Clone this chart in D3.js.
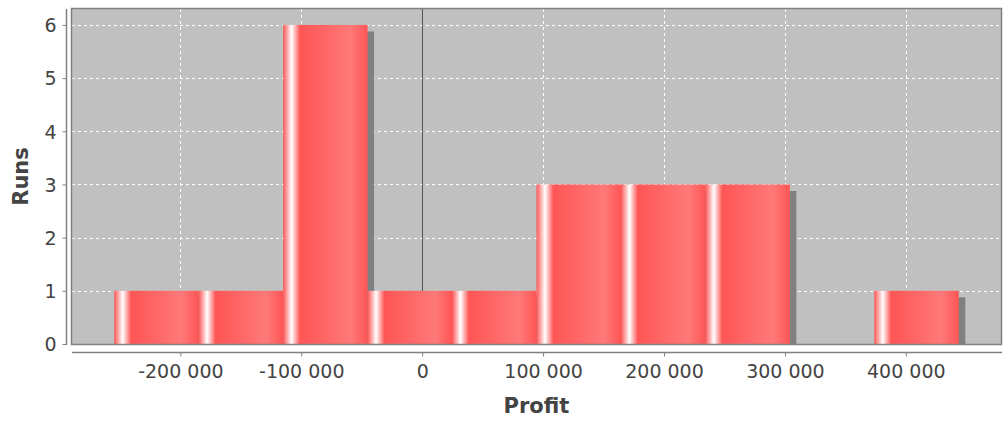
<!DOCTYPE html>
<html>
<head>
<meta charset="utf-8">
<script src="https://cdn.jsdelivr.net/npm/d3@7"></script>
<style>
  html, body { margin: 0; padding: 0; background: #ffffff; }
  svg { display: block; }
  text { font-family: "DejaVu Sans", sans-serif; }
</style>
</head>
<body>
<svg id="chart" width="1003" height="421"></svg>
<script>
// ---- data ----
const binEdges = [-254700, -184850, -115000, -45150, 24700, 94550, 164400, 234250, 304100, 373950, 443800];
const runs = [1, 1, 6, 1, 1, 3, 3, 3, 0, 1];
const xTicks = [-200000, -100000, 0, 100000, 200000, 300000, 400000];
const yTicks = [0, 1, 2, 3, 4, 5, 6];
const xTitle = "Profit";
const yTitle = "Runs";

const bins = runs.map((r, i) => ({ x0: binEdges[i], x1: binEdges[i + 1], n: r }));

// ---- layout ----
const W = 1003, H = 421;
const plot = { left: 72, right: 1001, top: 9, bottom: 344 };

const span = binEdges[binEdges.length - 1] - binEdges[0];
const x = d3.scaleLinear()
  .domain([binEdges[0] - span * 0.05, binEdges[binEdges.length - 1] + span * 0.05])
  .range([plot.left, plot.right]);
const y = d3.scaleLinear()
  .domain([0, d3.max(runs) * 1.05])
  .range([plot.bottom, plot.top]);

const loc = d3.formatLocale({ decimal: ".", thousands: " ", grouping: [3], currency: ["", ""], minus: "-" });
const fmt = loc.format(",d");

const svg = d3.select("#chart");
const defs = svg.append("defs");
const grad = defs.append("linearGradient").attr("id", "barGrad")
  .attr("x1", 0).attr("y1", 0).attr("x2", 1).attr("y2", 0);
[[0, "#ff5555"], [0.10, "#ffffff"], [0.20, "#ff5555"], [0.80, "#ff7979"], [1, "#ff5555"]]
  .forEach(([o, c]) => grad.append("stop").attr("offset", o).attr("stop-color", c));
defs.append("clipPath").attr("id", "plotClip").append("rect")
  .attr("x", plot.left).attr("y", plot.top)
  .attr("width", plot.right - plot.left).attr("height", plot.bottom - plot.top);

// plot background
svg.append("rect")
  .attr("x", plot.left).attr("y", plot.top)
  .attr("width", plot.right - plot.left).attr("height", plot.bottom - plot.top)
  .attr("fill", "#c0c0c0");

const g = svg.append("g").attr("clip-path", "url(#plotClip)");

// gridlines
g.selectAll(".vgrid").data(xTicks).join("line")
  .attr("x1", d => Math.round(x(d)) + 0.5).attr("x2", d => Math.round(x(d)) + 0.5)
  .attr("y1", plot.top).attr("y2", plot.bottom)
  .attr("stroke", "#ffffff").attr("stroke-width", 1).attr("stroke-dasharray", "3,3");
g.selectAll(".hgrid").data(yTicks).join("line")
  .attr("x1", plot.left).attr("x2", plot.right)
  .attr("y1", d => Math.round(y(d)) + 0.5).attr("y2", d => Math.round(y(d)) + 0.5)
  .attr("stroke", "#ffffff").attr("stroke-width", 1).attr("stroke-dasharray", "3,3");

// zero lines
g.append("line")
  .attr("x1", Math.round(x(0)) + 0.5).attr("x2", Math.round(x(0)) + 0.5)
  .attr("y1", plot.top).attr("y2", plot.bottom)
  .attr("stroke", "#555555").attr("stroke-width", 1);

// shadows
const sh = 6.5;
const shown = bins.filter(d => d.n > 0);
g.selectAll(".shadow").data(shown).join("rect")
  .attr("x", d => x(d.x0) + sh).attr("y", d => y(d.n) + sh)
  .attr("width", d => x(d.x1) - x(d.x0)).attr("height", d => y(0) - y(d.n))
  .attr("fill", "#808080");

// bars
g.selectAll(".bar").data(shown).join("rect")
  .attr("x", d => x(d.x0)).attr("y", d => y(d.n))
  .attr("width", d => x(d.x1) - x(d.x0)).attr("height", d => y(0) - y(d.n))
  .attr("fill", "url(#barGrad)");

// bottom baseline
svg.append("line")
  .attr("x1", plot.left).attr("x2", plot.right)
  .attr("y1", plot.bottom + 0.5).attr("y2", plot.bottom + 0.5)
  .attr("stroke", "#555555");

// plot outline
svg.append("rect")
  .attr("x", plot.left - 0.5).attr("y", plot.top - 0.5)
  .attr("width", plot.right - plot.left + 1).attr("height", plot.bottom - plot.top + 1)
  .attr("fill", "none").attr("stroke", "#808080").attr("stroke-width", 1.5);

// y axis
const yAxis = d3.axisLeft(y).tickValues(yTicks).tickSize(4).tickPadding(6).tickFormat(d3.format("d"));
const yg = svg.append("g").attr("transform", "translate(66.5,0)").call(yAxis);
yg.select(".domain").attr("d", `M0,${plot.top}V${plot.bottom + 1}`).attr("stroke", "#808080").attr("stroke-width", 1.5);
yg.selectAll(".tick line").attr("stroke", "#808080");
yg.selectAll(".tick text").attr("fill", "#444444").style("font-size", "19px").attr("dy", "0.36em");

// x axis
const xAxis = d3.axisBottom(x).tickValues(xTicks).tickSize(4).tickPadding(8).tickFormat(fmt);
const xg = svg.append("g").attr("transform", "translate(0,352.5)").call(xAxis);
xg.select(".domain").attr("d", `M${plot.left},0H${plot.right + 1}`).attr("stroke", "#808080").attr("stroke-width", 1.5);
xg.selectAll(".tick line").attr("stroke", "#808080");
xg.selectAll(".tick text").attr("fill", "#444444").style("font-size", "19px");

// titles
svg.append("text")
  .attr("x", (plot.left + plot.right) / 2).attr("y", 413)
  .attr("text-anchor", "middle")
  .attr("fill", "#444444").style("font-size", "21px").style("font-weight", "bold")
  .text(xTitle);
svg.append("text")
  .attr("transform", `translate(28,${(plot.top + plot.bottom) / 2}) rotate(-90)`)
  .attr("text-anchor", "middle")
  .attr("fill", "#444444").style("font-size", "21px").style("font-weight", "bold")
  .text(yTitle);
</script>
</body>
</html>
